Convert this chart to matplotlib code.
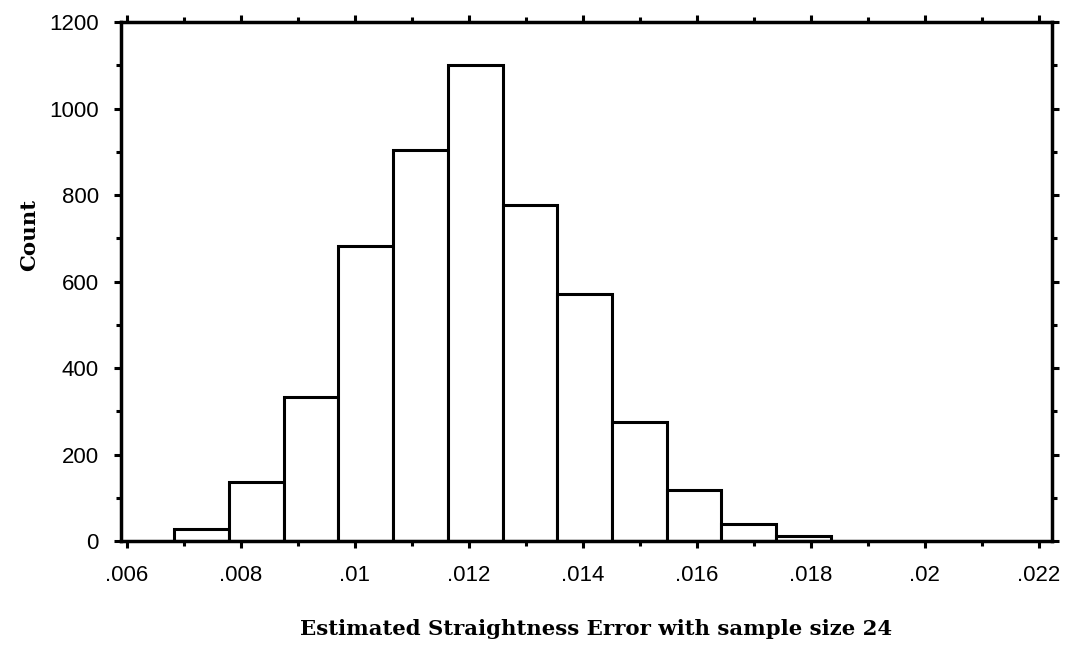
import numpy as np
import matplotlib
matplotlib.use('Agg')
import matplotlib.pyplot as plt
from matplotlib.ticker import MultipleLocator, FixedLocator, FixedFormatter

# histogram
bin_edges = [0.00683, 0.00779, 0.00875, 0.00971, 0.01067, 0.01163, 0.01259,
             0.01355, 0.01451, 0.01547, 0.01643, 0.01739, 0.01835]
counts = [28, 137, 334, 681, 903, 1100, 778, 570, 276, 118, 39, 12]

x_ticks = [0.006, 0.008, 0.010, 0.012, 0.014, 0.016, 0.018, 0.020, 0.022]
x_tick_labels = ['.006', '.008', '.01', '.012', '.014', '.016', '.018', '.02', '.022']
y_ticks = [0, 200, 400, 600, 800, 1000, 1200]
y_tick_labels = ['0', '200', '400', '600', '800', '1000', '1200']

fig = plt.figure(figsize=(10.69, 6.53), dpi=100)
ax = fig.add_axes([0.1132, 0.1715, 0.8708, 0.7948])

edges = np.array(bin_edges)
ax.bar(edges[:-1], counts, width=np.diff(edges), align='edge',
       facecolor='white', edgecolor='black', linewidth=2.2, zorder=2)

ax.set_xlim(0.005895, 0.02223)
ax.set_ylim(0, 1200)

ax.xaxis.set_major_locator(FixedLocator(x_ticks))
ax.xaxis.set_major_formatter(FixedFormatter(x_tick_labels))
ax.xaxis.set_minor_locator(MultipleLocator(0.001))
ax.yaxis.set_major_locator(FixedLocator(y_ticks))
ax.yaxis.set_major_formatter(FixedFormatter(y_tick_labels))
ax.yaxis.set_minor_locator(MultipleLocator(100))

for s in ax.spines.values():
    s.set_linewidth(2.5)

ax.tick_params(which='both', direction='out', top=True, right=True,
               width=2.2, color='black')
ax.tick_params(which='major', length=5)
ax.tick_params(which='minor', length=3.5)
ax.tick_params(axis='x', which='major', pad=12)
ax.tick_params(axis='y', which='major', pad=11)

for lab in ax.get_xticklabels() + ax.get_yticklabels():
    lab.set_fontfamily('Liberation Sans')
    lab.set_fontsize(16)

ax.set_xlabel('Estimated Straightness Error with sample size 24',
              fontfamily='DejaVu Serif', fontweight='bold', fontsize=15.3)
ax.set_ylabel('Count', fontfamily='DejaVu Serif', fontweight='bold', fontsize=15.3)
ax.xaxis.set_label_coords(0.51, -0.15)
ax.yaxis.set_label_coords(-0.088, 0.59)

fig.savefig('out.png', dpi=100)
